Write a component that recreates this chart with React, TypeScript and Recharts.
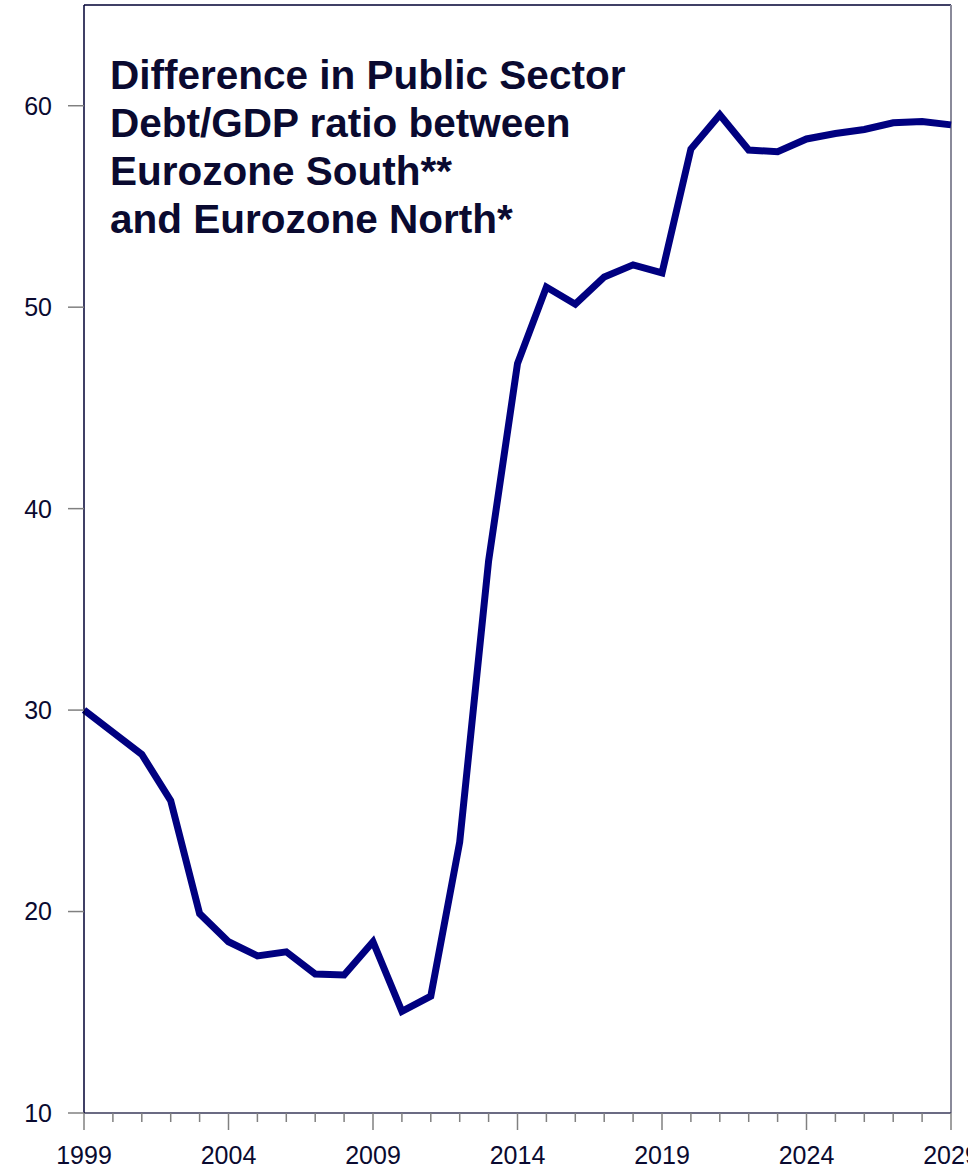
import React from "react";
import { CartesianGrid, Line, LineChart, ReferenceLine, XAxis, YAxis } from "recharts";

const years = [
  1999, 2000, 2001, 2002, 2003, 2004, 2005, 2006, 2007, 2008, 2009, 2010, 2011, 2012, 2013, 2014,
  2015, 2016, 2017, 2018, 2019, 2020, 2021, 2022, 2023, 2024, 2025, 2026, 2027, 2028, 2029,
];
const debtGap = [
  30.0, 28.9, 27.8, 25.5, 19.9, 18.5, 17.8, 18.0, 16.9, 16.85, 18.5, 15.05, 15.8, 23.45, 37.4, 47.2,
  51.0, 50.15, 51.5, 52.1, 51.7, 57.85, 59.55, 57.8, 57.72, 58.35, 58.62, 58.82, 59.15, 59.22, 59.05,
];
const majorYears = [1999, 2004, 2009, 2014, 2019, 2024, 2029];
const yTicks = [10, 20, 30, 40, 50, 60];
const titleLines = [
  "Difference in Public Sector",
  "Debt/GDP ratio between",
  "Eurozone South**",
  "and Eurozone North*",
];

const data = years.map((year, i) => ({ year, value: debtGap[i] }));

const NAVY = "#000080";
const TEXT = "#0a0a30";
const GREY = "#808080";
const FONT = "'Liberation Sans', Arial, sans-serif";

// minor tick every year, longer tick + label every 5 years
function YearTick(props: any) {
  const { x, y, payload } = props;
  const major = majorYears.includes(payload.value);
  return (
    <g>
      <line x1={x} x2={x} y1={y} y2={y + (major ? 17 : 9)} stroke={GREY} strokeWidth={1.5} />
      {major && (
        <text x={x} y={y + 51} textAnchor="middle" fontSize={25} fill={TEXT} fontFamily={FONT}>
          {payload.value}
        </text>
      )}
    </g>
  );
}

export default function App() {
  return (
    <div style={{ position: "relative", width: 968, height: 1171, overflow: "hidden", background: "#fff" }}>
      <style>{"body{margin:0}"}</style>
      <LineChart width={968} height={1171} data={data} margin={{ top: 5, right: 17, bottom: 0, left: 0 }}>
        <CartesianGrid horizontal={false} vertical={false} />
        <XAxis
          dataKey="year"
          type="number"
          domain={[1999, 2029]}
          ticks={years}
          interval={0}
          height={58}
          tickSize={0}
          tickMargin={0}
          tick={<YearTick />}
          axisLine={{ stroke: "#3a3a5a", strokeWidth: 1.5 }}
        />
        <YAxis
          type="number"
          domain={[10, 65]}
          ticks={yTicks}
          interval={0}
          width={84}
          tickSize={16}
          tickMargin={16}
          tickLine={{ stroke: GREY, strokeWidth: 1.5 }}
          axisLine={{ stroke: "#000033", strokeWidth: 1.5 }}
          tick={{ fontSize: 25, fill: TEXT, fontFamily: FONT }}
        />
        <ReferenceLine y={65} stroke="#000033" strokeWidth={1.5} />
        <ReferenceLine x={2029} stroke="#8a8a9a" strokeWidth={2} />
        <Line
          type="linear"
          dataKey="value"
          stroke={NAVY}
          strokeWidth={7}
          dot={false}
          isAnimationActive={false}
        />
      </LineChart>
      <div
        style={{
          position: "absolute",
          left: 110,
          top: 51,
          fontFamily: FONT,
          fontWeight: "bold",
          fontSize: 40.5,
          lineHeight: "48px",
          color: TEXT,
        }}
      >
        {titleLines.map((t) => (
          <div key={t}>{t}</div>
        ))}
      </div>
    </div>
  );
}
